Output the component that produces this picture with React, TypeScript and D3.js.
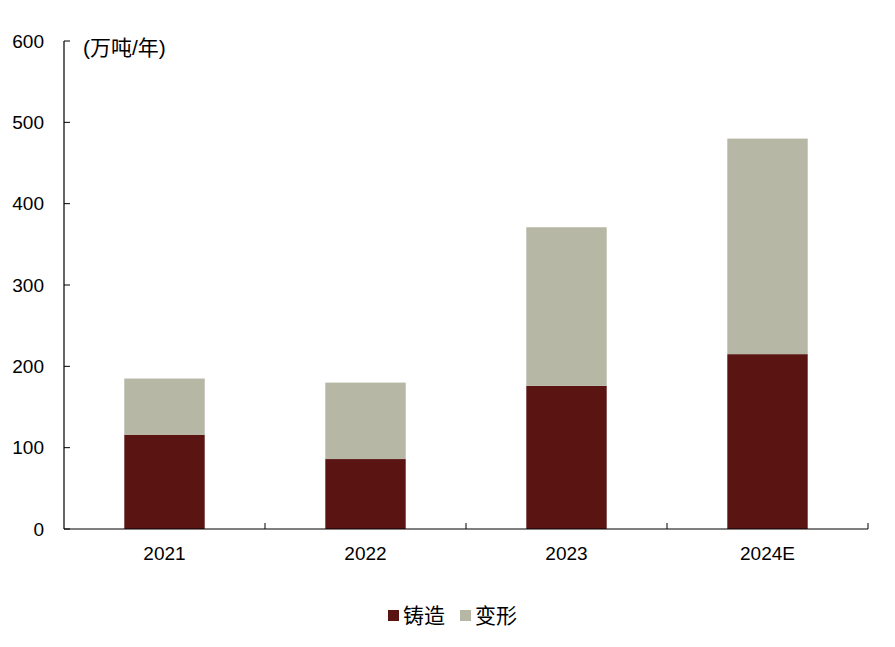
import React from "react";
import * as d3 from "d3";

const categories = ["2021", "2022", "2023", "2024E"];
const casting = [116, 86, 176, 215];
const deformation = [69, 94, 195, 265];
const yTicks = [0, 100, 200, 300, 400, 500, 600];
const seriesNames = ["铸造", "变形"];
const colors = ["#5a1512", "#b6b7a5"];
const unitLabel = "(万吨/年)";

export default function App() {
  const W = 895, H = 647;
  const left = 64, right = 868, top = 41, bottom = 529;
  const x = d3.scaleBand<string>().domain(categories).range([left, right]).paddingInner(0.6).paddingOuter(0.3);
  const xOuter = d3.scaleBand<string>().domain(categories).range([left, right]);
  const y = d3.scaleLinear().domain([0, 600]).range([bottom, top]);
  const rows = categories.map((c, i) => ({ c, casting: casting[i], deformation: deformation[i] }));
  const stack = d3.stack<any>().keys(["casting", "deformation"])(rows);
  const font = "Arial, 'Liberation Sans', 'Noto Sans CJK SC', sans-serif";
  return (
    <svg width={W} height={H} style={{ position: "absolute", left: 0, top: 0, background: "#fff" }} fontFamily={font}>
      {stack.map((s, si) => (
        <g key={si} fill={colors[si]}>
          {s.map((d, i) => (
            <rect key={i} x={x(categories[i])} width={x.bandwidth()} y={y(d[1])} height={y(d[0]) - y(d[1])} />
          ))}
        </g>
      ))}
      <line x1={left} x2={left} y1={top} y2={bottom} stroke="#000" strokeWidth={1.2} />
      <line x1={left} x2={right} y1={bottom} y2={bottom} stroke="#000" strokeWidth={1.2} />
      {yTicks.map((t) => (
        <g key={t}>
          <line x1={left} x2={left + 6} y1={y(t)} y2={y(t)} stroke="#000" strokeWidth={1} />
          <text x={44} y={y(t)} dy="0.35em" textAnchor="end" fontSize={19} fill="#000">{t}</text>
        </g>
      ))}
      {categories.map((c, i) => (
        <g key={c}>
          {i > 0 && <line x1={xOuter(c)} x2={xOuter(c)} y1={bottom} y2={bottom - 6} stroke="#000" strokeWidth={1} />}
          <text x={xOuter(c)! + xOuter.bandwidth() / 2} y={553} dy="0.35em" textAnchor="middle" fontSize={19} fill="#000">{c}</text>
        </g>
      ))}
      <line x1={right} x2={right} y1={bottom} y2={bottom - 6} stroke="#000" strokeWidth={1} />
      <text x={83} y={48} dy="0.35em" fontSize={21} fill="#000">{unitLabel}</text>
      {seriesNames.map((n, i) => (
        <g key={n} transform={`translate(${388 + i * 72},0)`}>
          <rect x={0} y={610} width={11} height={11} fill={colors[i]} />
          <text x={15} y={616} dy="0.35em" fontSize={21} fill="#000">{n}</text>
        </g>
      ))}
    </svg>
  );
}
